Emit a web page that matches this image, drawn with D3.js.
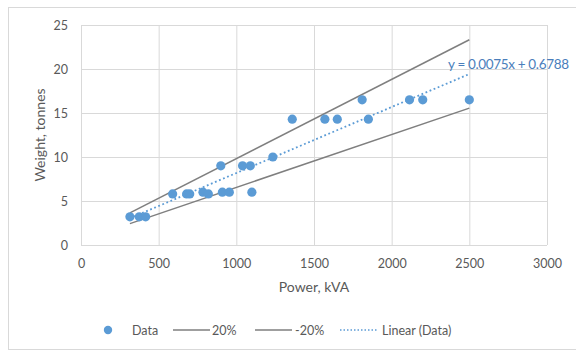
<!DOCTYPE html>
<html>
<head>
<meta charset="utf-8">
<script src="https://cdn.jsdelivr.net/npm/d3@7"></script>
<style>
  body { margin: 0; background: #fff; }
  text { font-family: Lato, "Open Sans", sans-serif; }
</style>
</head>
<body>
<div id="chart"></div>
<script>
// measured points, power (kVA) vs weight (tonnes)
const power  = [315, 375, 416, 590, 680, 700, 785, 820, 900, 910, 955, 1040, 1090, 1100, 1235, 1360, 1570, 1650, 1810, 1850, 2115, 2200, 2500];
const weight = [3.2, 3.2, 3.2, 5.8, 5.8, 5.8, 6.0, 5.8, 9.0, 6.0, 6.0, 9.0, 9.0, 6.0, 10.0, 14.3, 14.3, 14.3, 16.5, 14.3, 16.5, 16.5, 16.5];

// line end points
const upperLine = [[315, 3.65], [2500, 23.32]];
const lowerLine = [[315, 2.43], [2500, 15.55]];
const trendLine = [[315, 3.04], [2500, 19.43]];

const xTicks = [0, 500, 1000, 1500, 2000, 2500, 3000];
const yTicks = [0, 5, 10, 15, 20, 25];

const legendItems = ["Data", "20%", "-20%", "Linear (Data)"];

var W = 576, H = 352;
var margin = {top: 25, right: 29, bottom: 107, left: 81},
    width = W - margin.left - margin.right,
    height = H - margin.top - margin.bottom;

var svg = d3.select("#chart").append("svg")
    .attr("width", W)
    .attr("height", H);

// outer frame
svg.append("rect")
    .attr("x", 8.5).attr("y", 7.5)
    .attr("width", W).attr("height", 342)
    .attr("fill", "none")
    .attr("stroke", "#d9d9d9");

var g = svg.append("g")
    .attr("transform", "translate(" + margin.left + "," + margin.top + ")");

var x = d3.scaleLinear().domain([0, 3000]).range([0, width]);
var y = d3.scaleLinear().domain([0, 25]).range([height, 0]);

// grid
g.append("g")
    .attr("transform", "translate(0," + height + ")")
    .call(d3.axisBottom(x).tickValues(xTicks).tickSize(-height).tickFormat(""))
    .call(a => a.select(".domain").remove())
    .selectAll("line").attr("stroke", "#d9d9d9");

g.append("g")
    .call(d3.axisLeft(y).tickValues(yTicks).tickSize(-width).tickFormat(""))
    .call(a => a.select(".domain").remove())
    .selectAll("line").attr("stroke", "#d9d9d9");

// tick labels
g.append("g")
    .attr("transform", "translate(0," + height + ")")
    .call(d3.axisBottom(x).tickValues(xTicks).tickSize(0).tickPadding(14).tickFormat(d3.format("d")))
    .call(a => a.select(".domain").remove())
    .selectAll("text")
        .attr("fill", "#595959")
        .attr("font-size", "12.5px")
        .attr("font-family", "Lato");

g.append("g")
    .call(d3.axisLeft(y).tickValues(yTicks).tickSize(0).tickPadding(13))
    .call(a => a.select(".domain").remove())
    .selectAll("text")
        .attr("fill", "#595959")
        .attr("font-size", "12.5px")
        .attr("font-family", "Lato");

var line = d3.line()
    .x(d => x(d[0]))
    .y(d => y(d[1]));

g.append("path").datum(upperLine)
    .attr("d", line).attr("fill", "none")
    .attr("stroke", "#7f7f7f").attr("stroke-width", 1.5);

g.append("path").datum(lowerLine)
    .attr("d", line).attr("fill", "none")
    .attr("stroke", "#7f7f7f").attr("stroke-width", 1.5);

g.append("path").datum(trendLine)
    .attr("d", line).attr("fill", "none")
    .attr("stroke", "#5b9bd5").attr("stroke-width", 1.8)
    .attr("stroke-dasharray", "1.8,2.6");

// points
g.selectAll("circle.pt")
    .data(power)
    .enter()
    .append("circle")
        .attr("class", "pt")
        .attr("cx", d => x(d))
        .attr("cy", (d, i) => y(weight[i]))
        .attr("r", 4.6)
        .attr("fill", "#5b9bd5");

// trend equation
svg.append("text")
    .attr("x", 448)
    .attr("y", 69)
    .attr("textLength", 121)
    .attr("font-size", "13.5px")
    .attr("fill", "#4a7ebb")
    .text("y = 0.0075x + 0.6788");

// axis titles
svg.append("text")
    .attr("x", margin.left + width / 2)
    .attr("y", 292)
    .attr("text-anchor", "middle")
    .attr("font-size", "14px")
    .attr("fill", "#595959")
    .text("Power, kVA");

svg.append("text")
    .attr("transform", "translate(45," + (margin.top + height / 2) + ") rotate(-90)")
    .attr("text-anchor", "middle")
    .attr("font-size", "14px")
    .attr("fill", "#595959")
    .text("Weight, tonnes");

// legend
var legend = svg.append("g").attr("transform", "translate(0,330)");
var lx = [108, 173, 255, 340];

legend.append("circle")
    .attr("cx", lx[0]).attr("cy", 0).attr("r", 4.2)
    .attr("fill", "#5b9bd5");
legend.append("line")
    .attr("x1", lx[1]).attr("x2", lx[1] + 37).attr("y1", 0).attr("y2", 0)
    .attr("stroke", "#7f7f7f").attr("stroke-width", 1.5);
legend.append("line")
    .attr("x1", lx[2]).attr("x2", lx[2] + 37).attr("y1", 0).attr("y2", 0)
    .attr("stroke", "#7f7f7f").attr("stroke-width", 1.5);
legend.append("line")
    .attr("x1", lx[3]).attr("x2", lx[3] + 37).attr("y1", 0).attr("y2", 0)
    .attr("stroke", "#5b9bd5").attr("stroke-width", 1.5)
    .attr("stroke-dasharray", "1.5,2");

var textX = [132, 212, 295, 382];
legend.selectAll("text.lg")
    .data(legendItems)
    .enter()
    .append("text")
        .attr("class", "lg")
        .attr("x", (d, i) => textX[i])
        .attr("y", 4.5)
        .attr("font-size", "12.5px")
        .attr("fill", "#595959")
        .text(d => d);
</script>
</body>
</html>
